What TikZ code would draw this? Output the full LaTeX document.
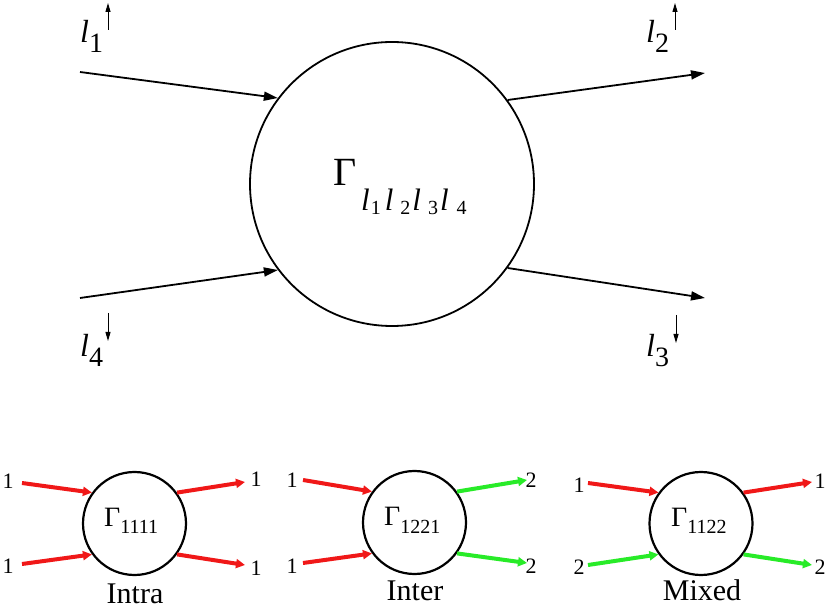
\documentclass[tikz,border=0pt]{standalone}
\usepackage{fontspec}
\setmainfont{Liberation Serif}
\usetikzlibrary{arrows.meta}
\definecolor{fred}{RGB}{240,24,24}
\definecolor{fgreen}{RGB}{40,235,40}
\tikzset{
  bigarrow/.style={line width=1.8pt,-{Triangle[length=14pt,width=9pt]}},
  tinyarrow/.style={line width=1pt,-{Triangle[length=9pt,width=5pt]}},
  smallarrow/.style={line width=4pt,-{Triangle[length=9pt,width=9pt]}},
  bigcircle/.style={circle,draw,line width=1.8pt,minimum size=284pt,inner sep=0pt},
  smallcircle/.style={circle,draw,line width=2.2pt,minimum size=103pt,inner sep=0pt},
  biglabel/.style={inner sep=0pt,anchor=base west,font=\fontsize{32}{32}\selectfont},
  numlabel/.style={inner sep=0pt,font=\fontsize{22}{22}\selectfont},
  caption/.style={inner sep=0pt,anchor=base,font=\fontsize{30}{30}\selectfont},
  gammasmall/.style={inner sep=0pt,anchor=base west,font=\fontsize{28}{28}\selectfont}
}
\newcommand{\subsm}[1]{\raisebox{-7pt}{\fontsize{20}{20}\selectfont #1}}
\newcommand{\subbig}[1]{\raisebox{-4pt}{\fontsize{20}{20}\selectfont #1}}
\begin{document}
\begin{tikzpicture}[x=1pt,y=-1pt]
\useasboundingbox (0,0) rectangle (828,609);
% big vertex
\node[bigcircle] (C) at (392,184) {};
\node[inner sep=0pt,anchor=base west,font=\fontsize{40}{40}\selectfont] (G) at (333,186) {Γ};
\node[inner sep=0pt,anchor=base west] (Gs) at (361,211) {\fontsize{31}{31}\selectfont\textit{l}\kern1pt\subbig{1}\kern4pt\textit{l}\kern7pt\subbig{2}\kern2pt\textit{l}\kern7pt\subbig{3}\kern2pt\textit{l}\kern8pt\subbig{4}};
\coordinate (a1) at (80,72);
\coordinate (a2) at (705,73);
\coordinate (a3) at (705,298);
\coordinate (a4) at (80,298);
\draw[bigarrow] (a1) -- (C.143);
\draw[bigarrow] (C.36) -- (a2);
\draw[bigarrow] (C.-36) -- (a3);
\draw[bigarrow] (a4) -- (C.-143);
% labels
\node[biglabel] (L1) at (80,43) {\textit{l}\raisebox{-10pt}{\fontsize{28}{28}\selectfont 1}};
\node[biglabel] (L2) at (646,43) {\textit{l}\raisebox{-10pt}{\fontsize{28}{28}\selectfont 2}};
\node[biglabel] (L3) at (646,357) {\textit{l}\raisebox{-10pt}{\fontsize{28}{28}\selectfont 3}};
\node[biglabel] (L4) at (80,357) {\textit{l}\raisebox{-10pt}{\fontsize{28}{28}\selectfont 4}};
\coordinate (u1a) at (108,30); \coordinate (u1b) at (108,3);
\coordinate (u2a) at (675,30); \coordinate (u2b) at (675,3);
\coordinate (d3a) at (676,315); \coordinate (d3b) at (676,343);
\coordinate (d4a) at (108,313); \coordinate (d4b) at (108,341);
\draw[tinyarrow] (u1a) -- (u1b);
\draw[tinyarrow] (u2a) -- (u2b);
\draw[tinyarrow] (d3a) -- (d3b);
\draw[tinyarrow] (d4a) -- (d4b);
% Intra
\node[smallcircle] (I) at (134.5,523.5) {};
\node[gammasmall] (IG) at (104,527) {Γ\subsm{1111}};
\coordinate (i1) at (22,483); \coordinate (i2) at (245,482);
\coordinate (i3) at (245,565); \coordinate (i4) at (22,564);
\draw[smallarrow,fred] (i1) -- (I.144);
\draw[smallarrow,fred] (I.36) -- (i2);
\draw[smallarrow,fred] (I.-36) -- (i3);
\draw[smallarrow,fred] (i4) -- (I.-144);
\node[numlabel] (in1) at (8,481) {1};
\node[numlabel] (in2) at (256,479) {1};
\node[numlabel] (in3) at (256,568) {1};
\node[numlabel] (in4) at (8,566) {1};
\node[caption] (IC) at (135,603) {Intra};
% Inter
\node[smallcircle] (E) at (414.5,522.5) {};
\node[gammasmall] (EG) at (384,526) {Γ\subsm{1221}};
\coordinate (e1) at (303,480); \coordinate (e2) at (527,480);
\coordinate (e3) at (527,563); \coordinate (e4) at (303,563);
\draw[smallarrow,fred] (e1) -- (E.144);
\draw[smallarrow,fgreen] (E.36) -- (e2);
\draw[smallarrow,fgreen] (E.-36) -- (e3);
\draw[smallarrow,fred] (e4) -- (E.-144);
\node[numlabel] (en1) at (292,480) {1};
\node[numlabel] (en2) at (531,480) {2};
\node[numlabel] (en3) at (531,566) {2};
\node[numlabel] (en4) at (292,566) {1};
\node[caption] (EC) at (415,601) {Inter};
% Mixed
\node[smallcircle] (M) at (701,523.5) {};
\node[gammasmall] (MG) at (671,527) {Γ\subsm{1122}};
\coordinate (m1) at (588,483); \coordinate (m2) at (812,482);
\coordinate (m3) at (812,565); \coordinate (m4) at (588,565);
\draw[smallarrow,fred] (m1) -- (M.144);
\draw[smallarrow,fred] (M.36) -- (m2);
\draw[smallarrow,fgreen] (M.-36) -- (m3);
\draw[smallarrow,fgreen] (m4) -- (M.-144);
\node[numlabel] (mn1) at (579,485) {1};
\node[numlabel] (mn2) at (820,481) {1};
\node[numlabel] (mn3) at (820,567) {2};
\node[numlabel] (mn4) at (579,567) {2};
\node[caption] (MC) at (702,601) {Mixed};
\end{tikzpicture}
\end{document}
